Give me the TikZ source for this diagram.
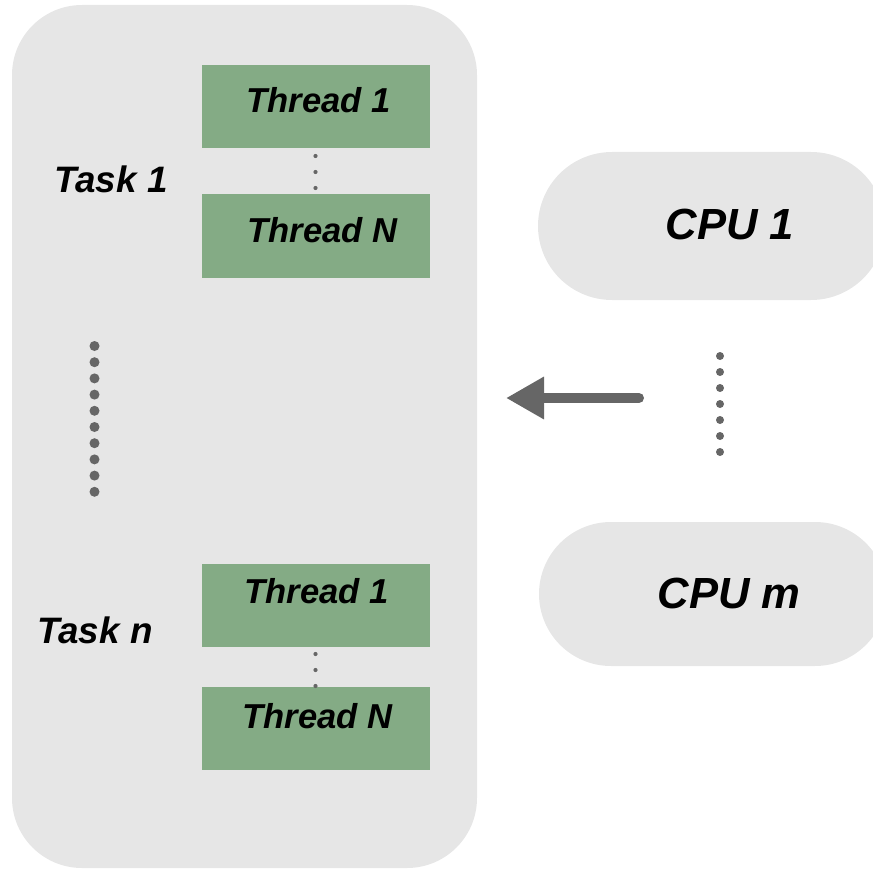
\documentclass[tikz,border=0pt]{standalone}
\usepackage{fontspec}
\setmainfont{Liberation Sans}
\usetikzlibrary{arrows.meta}

\definecolor{panelgray}{HTML}{E6E6E6}
\definecolor{threadgreen}{HTML}{84AB85}
\definecolor{markgray}{HTML}{666666}

\tikzset{
  panel/.style={fill=panelgray, draw=none, inner sep=0pt},
  threadbox/.style={fill=threadgreen, draw=none, inner sep=0pt,
    minimum width=228pt, minimum height=83pt},
  cpubox/.style={fill=panelgray, draw=none, inner sep=0pt, rounded corners=#1},
  lbl/.style={inner sep=0pt, anchor=base, font=\fontsize{#1}{#1}\selectfont\bfseries\itshape},
  bigdot/.style={fill=markgray, draw=none},
  flow/.style={draw=markgray, line width=10pt, line cap=round,
    -{Triangle[length=38pt, width=40pt]}},
}

\begin{document}
\begin{tikzpicture}[x=1pt, y=-1pt]
  \useasboundingbox (0,0) rectangle (873,869);
  \clip (0,0) rectangle (873,869);

  % task container
  \node[panel, rounded corners=70pt, minimum width=465pt, minimum height=863pt]
    (tasks) at (244.5,436.5) {};

  % CPU pills (right ends run off the canvas)
  \node[cpubox=74pt, minimum width=347pt, minimum height=148pt] (cpu1) at (711.5,226) {};
  \node[cpubox=72pt, minimum width=348pt, minimum height=144pt] (cpum) at (713,594) {};

  % thread boxes
  \node[threadbox] (t11) at (316,106.5) {};
  \node[threadbox] (t1N) at (316,236) {};
  \node[threadbox] (tn1) at (316,605.5) {};
  \node[threadbox] (tnN) at (316,728.5) {};

  % labels
  \node[lbl=34.6pt] (lt11) at (318.5,113) {Thread 1};
  \node[lbl=34.6pt] (lt1N) at (322.5,243) {Thread N};
  \node[lbl=34.6pt] (ltn1) at (316.5,603) {Thread 1};
  \node[lbl=34.6pt] (ltnN) at (317.5,728) {Thread N};
  \node[lbl=36.8pt] (task1) at (111,193) {Task 1};
  \node[lbl=36.8pt] (taskn) at (95,643) {Task n};
  \node[lbl=43.6pt] (lcpu1) at (730,240) {CPU 1};
  \node[lbl=43.6pt] (lcpum) at (729,608) {CPU m};

  % ellipsis dots between threads
  \foreach \y in {156,172,188} \fill[markgray] (315.5,\y) circle (2.1pt);
  \foreach \y in {654,670,686} \fill[markgray] (315.5,\y) circle (2.1pt);

  % ellipsis dots between tasks
  \foreach \i in {0,...,9} \fill[bigdot] (94.5,346+16.2*\i) circle (5pt);

  % ellipsis dots between CPUs
  \foreach \i in {0,...,6} \fill[bigdot] (720,356+16*\i) circle (4pt);

  % scheduling arrow
  \coordinate (arrowfrom) at (639,398);
  \coordinate (arrowto) at (506,398);
  \draw[flow] (arrowfrom) -- (arrowto);
\end{tikzpicture}
\end{document}
